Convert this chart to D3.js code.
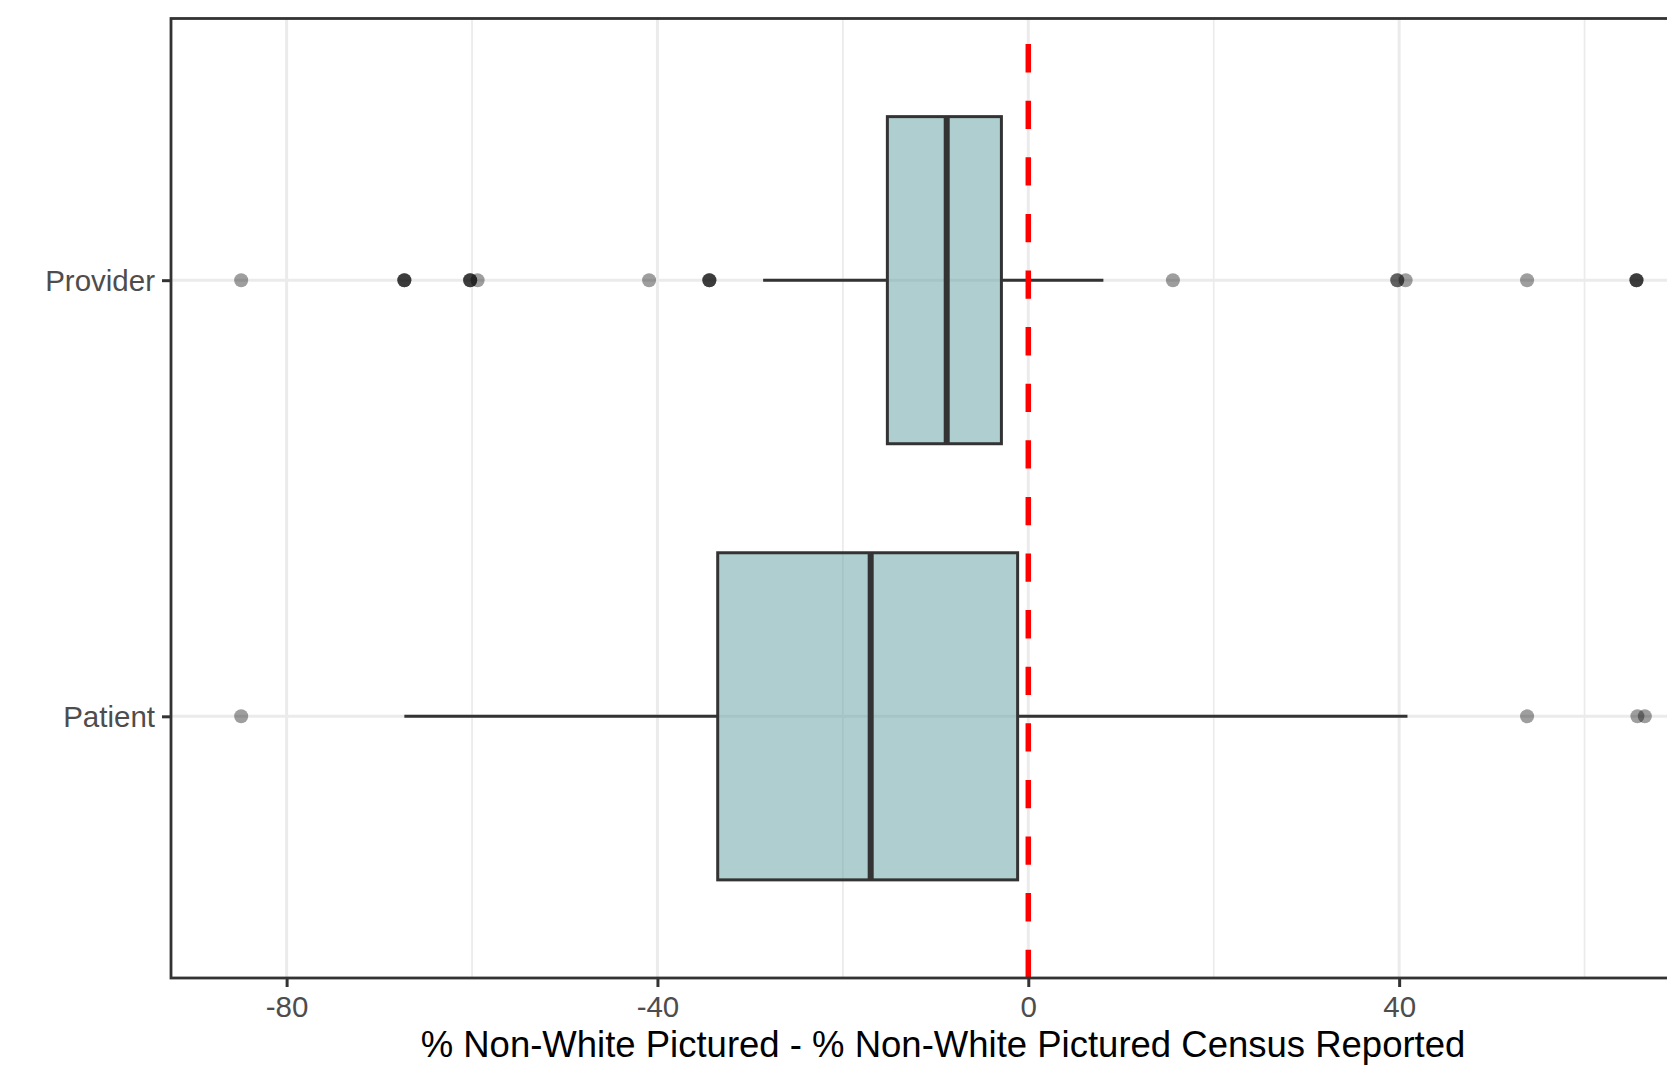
<!DOCTYPE html>
<html>
<head>
<meta charset="utf-8">
<script src="https://cdn.jsdelivr.net/npm/d3@7"></script>
<style>
  html, body { margin: 0; padding: 0; background: #fff; overflow: hidden; }
  svg { display: block; font-family: "Liberation Sans", Arial, Helvetica, sans-serif; }
</style>
</head>
<body>
<svg id="chart" width="1667" height="1067"></svg>
<script>
// ---- data ----
const categories = ["Provider", "Patient"];
const q1 = [-15.2, -33.5];
const medians = [-8.8, -17.0];
const q3 = [-2.9, -1.15];
const whiskerLow = [-28.6, -67.3];
const whiskerHigh = [8.1, 40.9];
const providerOutliers = [-84.9, -67.3, -67.3, -67.3, -60.2, -60.2, -60.2, -59.4, -40.9,
  -34.4, -34.4, -34.4, 15.6, 39.8, 39.8, 40.7, 53.8, 65.6, 65.6, 65.6];
const patientOutliers = [-84.9, 53.8, 65.7, 66.5];
const outliers = [providerOutliers, patientOutliers];
const majorTicks = [-80, -40, 0, 40];
const tickLabels = ["-80", "-40", "0", "40"];
const minorTicks = [-60, -20, 20, 60];
const referenceValue = 0;
const xTitle = "% Non-White Pictured - % Non-White Pictured Census Reported";

// ---- layout ----
const panel = { left: 171, top: 18.5, right: 1715, bottom: 978 };
const svg = d3.select("#chart");

const allVals = outliers.flat().concat(whiskerLow, whiskerHigh);
const [mn, mx] = d3.extent(allVals);
const pad = (mx - mn) * 0.05;
const x = d3.scaleLinear().domain([mn - pad, mx + pad]).range([panel.left, panel.right]);
const y = d3.scalePoint().domain(categories).range([panel.top, panel.bottom]).padding(0.6);
const boxH = y.step() * 0.75;

const gridColor = "#EBEBEB";
const dark = "#333333";

// background
svg.append("rect").attr("x", panel.left).attr("y", panel.top)
  .attr("width", panel.right - panel.left).attr("height", panel.bottom - panel.top)
  .attr("fill", "#fff");

// minor grid
svg.append("g").selectAll("line").data(minorTicks).join("line")
  .attr("x1", d => x(d)).attr("x2", d => x(d))
  .attr("y1", panel.top).attr("y2", panel.bottom)
  .attr("stroke", gridColor).attr("stroke-width", 1.7);
// major grid
svg.append("g").selectAll("line").data(majorTicks).join("line")
  .attr("x1", d => x(d)).attr("x2", d => x(d))
  .attr("y1", panel.top).attr("y2", panel.bottom)
  .attr("stroke", gridColor).attr("stroke-width", 3);
svg.append("g").selectAll("line").data(categories).join("line")
  .attr("x1", panel.left).attr("x2", panel.right)
  .attr("y1", d => y(d)).attr("y2", d => y(d))
  .attr("stroke", gridColor).attr("stroke-width", 3);

// boxplots
const boxes = svg.append("g");
categories.forEach((c, i) => {
  const cy = y(c);
  const g = boxes.append("g");
  // outliers
  g.selectAll("circle").data(outliers[i]).join("circle")
    .attr("cx", d => x(d)).attr("cy", cy).attr("r", 7)
    .attr("fill", "#000").attr("fill-opacity", 0.38);
  // whiskers
  g.append("line").attr("x1", x(whiskerLow[i])).attr("x2", x(q1[i]))
    .attr("y1", cy).attr("y2", cy).attr("stroke", dark).attr("stroke-width", 3);
  g.append("line").attr("x1", x(q3[i])).attr("x2", x(whiskerHigh[i]))
    .attr("y1", cy).attr("y2", cy).attr("stroke", dark).attr("stroke-width", 3);
  // box
  g.append("rect").attr("x", x(q1[i])).attr("y", cy - boxH / 2)
    .attr("width", x(q3[i]) - x(q1[i])).attr("height", boxH)
    .attr("fill", "#5F9EA0").attr("fill-opacity", 0.5)
    .attr("stroke", dark).attr("stroke-width", 3);
  // median
  g.append("line").attr("x1", x(medians[i])).attr("x2", x(medians[i]))
    .attr("y1", cy - boxH / 2).attr("y2", cy + boxH / 2)
    .attr("stroke", dark).attr("stroke-width", 6);
});

// reference line (dashed red), drawn from bottom to top
svg.append("line")
  .attr("x1", x(referenceValue)).attr("x2", x(referenceValue))
  .attr("y1", panel.bottom).attr("y2", panel.top)
  .attr("stroke", "#FF0000").attr("stroke-width", 5.5)
  .attr("stroke-dasharray", "28.3 28.3");

// panel border
svg.append("rect").attr("x", panel.left).attr("y", panel.top)
  .attr("width", panel.right - panel.left).attr("height", panel.bottom - panel.top)
  .attr("fill", "none").attr("stroke", dark).attr("stroke-width", 2.8);

// x axis
const xAxis = d3.axisBottom(x).tickValues(majorTicks).tickSize(9).tickPadding(9)
  .tickFormat((d, i) => tickLabels[i]);
const gx = svg.append("g").attr("transform", `translate(0,${panel.bottom})`).call(xAxis);
gx.select(".domain").remove();
gx.selectAll(".tick line").attr("stroke", dark).attr("stroke-width", 3);
gx.selectAll(".tick text").attr("fill", "#4D4D4D").attr("font-size", 29.5)
  .attr("font-family", "Liberation Sans, Arial, sans-serif").attr("dy", "0.71em");

// y axis
const yAxis = d3.axisLeft(y).tickSize(9).tickPadding(7);
const gy = svg.append("g").attr("transform", `translate(${panel.left},0)`).call(yAxis);
gy.select(".domain").remove();
gy.selectAll(".tick line").attr("stroke", dark).attr("stroke-width", 3);
gy.selectAll(".tick text").attr("fill", "#4D4D4D").attr("font-size", 29.5)
  .attr("font-family", "Liberation Sans, Arial, sans-serif").attr("dy", "0.36em");

// x title
svg.append("text")
  .attr("x", (panel.left + panel.right) / 2).attr("y", 1057)
  .attr("text-anchor", "middle").attr("font-size", 36.5).attr("fill", "#000")
  .text(xTitle);
</script>
</body>
</html>
